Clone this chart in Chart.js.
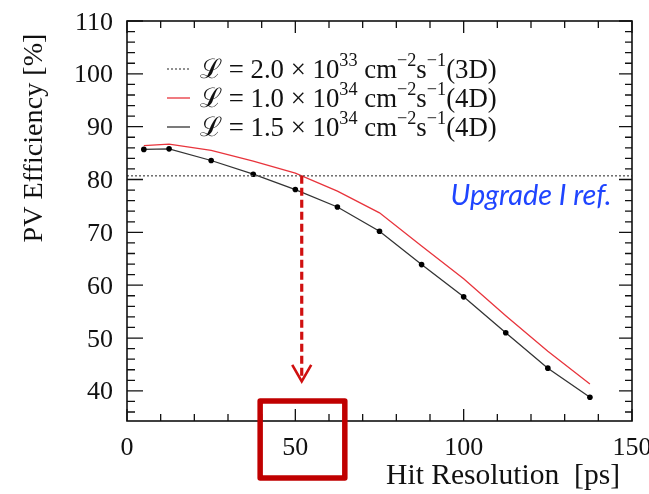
<!DOCTYPE html>
<html>
<head>
<meta charset="utf-8">
<script src="https://cdn.jsdelivr.net/npm/chart.js@4"></script>
<style>
html,body{margin:0;padding:0;background:#fff;}
canvas{display:block;}
</style>
</head>
<body>
<canvas id="c" width="649" height="494"></canvas>
<script>
// ---- data ----
const hitResolution = [5, 12.5, 25, 37.5, 50, 62.5, 75, 87.5, 100, 112.5, 125, 137.5];
const eff_1p0e34_4D = [86.4, 86.7, 85.5, 83.5, 81.2, 77.8, 73.7, 67.4, 61.2, 54.2, 47.5, 41.3];
const eff_1p5e34_4D = [85.7, 85.8, 83.6, 81.0, 78.1, 74.8, 70.2, 63.9, 57.8, 51.0, 44.3, 38.8];
const refX = [0, 150];
const eff_2p0e33_3D = [80.7, 80.7];
const xTickLabels = [0, 50, 100, 150];
const yTickLabels = [40, 50, 60, 70, 80, 90, 100, 110];
const xMinorStep = 10;
const yMinorStep = 2;
const xRange = [0, 150];
const yRange = [34.3, 110];
// annotation (data units)
const arrowX = 51.9, arrowFrom = 80.7, arrowTo = 41.8;
const boxX = [39.55, 64.7], boxY = [23.5, 38.1];
const refLabel = "Upgrade I ref.";
const refLabelPos = [143.9, 75.25]; // right end x, baseline y (data units)
const legendRows = [
  {color:'#555', dash:[2,2], parts:[['ℒ = 2.0 × 10',0],['33',1],[' cm',0],['−2',1],['s',0],['−1',1],['(3D)',0]]},
  {color:'#e8343c', dash:[], parts:[['ℒ = 1.0 × 10',0],['34',1],[' cm',0],['−2',1],['s',0],['−1',1],['(4D)',0]]},
  {color:'#333', dash:[], parts:[['ℒ = 1.5 × 10',0],['34',1],[' cm',0],['−2',1],['s',0],['−1',1],['(4D)',0]]}
];

const pts = (xs, ys) => xs.map((x,i)=>({x, y: ys[i]}));
const SERIF = '"Liberation Serif", "DejaVu Serif", serif';

function fitFont(ctx, text, target, weightStyle, family){
  ctx.font = weightStyle + ' 100px ' + family;
  const w = ctx.measureText(text).width;
  return 100*target/w;
}

function rowWidth(ctx, parts, size){
  let w = 0;
  parts.forEach(([t,sup])=>{
    ctx.font = (sup ? size*0.68 : size) + 'px ' + SERIF;
    w += ctx.measureText(t).width;
  });
  return w;
}

const decor = {
  id:'decor',
  afterDraw(chart){
    const ctx = chart.ctx, xs = chart.scales.x, ys = chart.scales.y, a = chart.chartArea;
    ctx.save();
    // frame
    ctx.strokeStyle = '#111'; ctx.lineWidth = 1.6;
    ctx.strokeRect(a.left, a.top, a.right-a.left, a.bottom-a.top);
    ctx.lineWidth = 1.3;
    ctx.beginPath();
    for(let v=xRange[0]; v<=xRange[1]+1e-6; v+=xMinorStep){
      const px = xs.getPixelForValue(v);
      const major = xTickLabels.includes(v);
      const L = major ? 12 : 7;
      ctx.moveTo(px, a.bottom); ctx.lineTo(px, a.bottom-L);
      ctx.moveTo(px, a.top); ctx.lineTo(px, a.top+L);
    }
    for(let v=36; v<=yRange[1]+1e-6; v+=yMinorStep){
      const py = ys.getPixelForValue(v);
      const major = yTickLabels.includes(v);
      ctx.moveTo(a.left, py); ctx.lineTo(a.left+(major?16:8), py);
      ctx.moveTo(a.right, py); ctx.lineTo(a.right-(major?13:7), py);
    }
    ctx.stroke();
    // tick labels
    ctx.fillStyle = '#111';
    ctx.font = '26px ' + SERIF;
    ctx.textAlign = 'right'; ctx.textBaseline = 'alphabetic';
    yTickLabels.forEach(v=>{
      ctx.fillText(String(v), a.left-14, ys.getPixelForValue(v)+8.5);
    });
    ctx.textAlign = 'center';
    xTickLabels.forEach(v=>{
      ctx.fillText(String(v), xs.getPixelForValue(v), a.bottom+34);
    });
    // axis titles
    const xt = 'Hit Resolution  [ps]';
    ctx.font = fitFont(ctx, xt, 234, '', SERIF) + 'px ' + SERIF;
    ctx.textAlign = 'right';
    ctx.fillText(xt, 620, 484);
    const yt = 'PV Efficiency [%]';
    ctx.save();
    ctx.font = fitFont(ctx, yt, 209, '', SERIF) + 'px ' + SERIF;
    ctx.translate(42, 138); ctx.rotate(-Math.PI/2);
    ctx.textAlign = 'center';
    ctx.fillText(yt, 0, 0);
    ctx.restore();
    // legend
    const lx0 = 167, lx1 = 190, tx = 200;
    const baseSize = 23 * 297 / rowWidth(ctx, legendRows[0].parts, 23);
    const rowY = [69, 98, 127];
    legendRows.forEach((r,i)=>{
      const y = rowY[i];
      ctx.save();
      ctx.strokeStyle = r.color; ctx.lineWidth = 1.3; ctx.setLineDash(r.dash);
      ctx.beginPath(); ctx.moveTo(lx0, y); ctx.lineTo(lx1, y); ctx.stroke();
      ctx.restore();
      let x = tx;
      ctx.textAlign = 'left'; ctx.fillStyle = '#111';
      r.parts.forEach(([t,sup])=>{
        const s = sup ? baseSize*0.68 : baseSize;
        ctx.font = s + 'px ' + SERIF;
        ctx.fillText(t, x, y + 8.5 - (sup ? baseSize*0.42 : 0));
        x += ctx.measureText(t).width;
      });
    });
    // reference label
    const lf = 'Lato, "Open Sans", sans-serif';
    ctx.font = 'italic ' + fitFont(ctx, refLabel, 161, 'italic', lf) + 'px ' + lf;
    ctx.fillStyle = '#1f45ff';
    ctx.textAlign = 'right';
    ctx.fillText(refLabel, xs.getPixelForValue(refLabelPos[0]), ys.getPixelForValue(refLabelPos[1]));
    // dashed arrow
    const ax = xs.getPixelForValue(arrowX), ay0 = ys.getPixelForValue(arrowFrom), ay1 = ys.getPixelForValue(arrowTo);
    ctx.strokeStyle = '#d01010';
    ctx.lineWidth = 3.2; ctx.setLineDash([8,4]);
    ctx.beginPath(); ctx.moveTo(ax, ay0); ctx.lineTo(ax, ay1-3); ctx.stroke();
    ctx.setLineDash([]); ctx.lineWidth = 2.6;
    ctx.beginPath(); ctx.moveTo(ax-9.5, ay1-16.5); ctx.lineTo(ax, ay1); ctx.lineTo(ax+9.5, ay1-16.5); ctx.stroke();
    // highlight box
    const bx0 = xs.getPixelForValue(boxX[0]), bx1 = xs.getPixelForValue(boxX[1]);
    const by0 = ys.getPixelForValue(boxY[1]), by1 = ys.getPixelForValue(boxY[0]);
    ctx.strokeStyle = '#c00000'; ctx.lineWidth = 5.5; ctx.lineJoin = 'round';
    ctx.strokeRect(bx0, by0, bx1-bx0, by1-by0);
    ctx.restore();
  }
};

new Chart(document.getElementById('c'), {
  type:'line',
  data:{
    datasets:[
      {label:'3D', data: pts(refX, eff_2p0e33_3D), borderColor:'#555', borderWidth:1.3, borderDash:[2,2], pointRadius:0, tension:0},
      {label:'4D 1.0e34', data: pts(hitResolution, eff_1p0e34_4D), borderColor:'#e8343c', borderWidth:1.3, pointRadius:0, tension:0},
      {label:'4D 1.5e34', data: pts(hitResolution, eff_1p5e34_4D), borderColor:'#333', borderWidth:1.3, pointRadius:2.8, pointBackgroundColor:'#000', pointBorderColor:'#000', pointBorderWidth:0, tension:0}
    ]
  },
  options:{
    responsive:false, animation:false, events:[],
    layout:{padding:{left:127, right:17, top:21, bottom:73}},
    plugins:{legend:{display:false}, tooltip:{enabled:false}, title:{display:false}},
    scales:{
      x:{type:'linear', min:xRange[0], max:xRange[1], display:false},
      y:{type:'linear', min:yRange[0], max:yRange[1], display:false}
    }
  },
  plugins:[decor]
});
</script>
</body>
</html>
